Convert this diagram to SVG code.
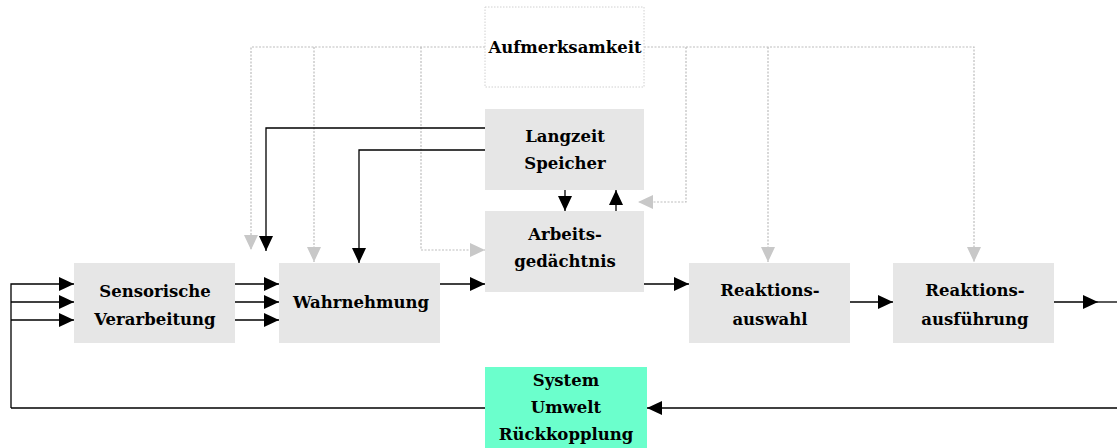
<svg xmlns="http://www.w3.org/2000/svg" width="1117" height="448" viewBox="0 0 1117 448">
<style>
.box{fill:#e6e6e6}
.t{font-family:"DejaVu Serif","Liberation Serif",serif;font-weight:bold;font-size:16.5px;fill:#000;text-anchor:middle}
.k{fill:none;stroke:#000;stroke-width:1.3}
.g{fill:none;stroke:#bdbdbd;stroke-width:1.2;stroke-dasharray:2 1.5}
</style>
<defs>
<marker id="ab" markerWidth="15" markerHeight="14" refX="15" refY="7" orient="auto" markerUnits="userSpaceOnUse"><path d="M0,0 L15,7 L0,14 Z" fill="#000"/></marker>
<marker id="ag" markerWidth="15" markerHeight="14" refX="15" refY="7" orient="auto" markerUnits="userSpaceOnUse"><path d="M0,0 L15,7 L0,14 Z" fill="#c8c8c8"/></marker>
</defs>
<rect width="1117" height="448" fill="#fff"/>
<g id="connectors">
<path class="g" d="M485,47 H251 V250" marker-end="url(#ag)"/>
<path class="g" d="M314,47 V262" marker-end="url(#ag)"/>
<path class="g" d="M421,47 V250 H485" marker-end="url(#ag)"/>
<path class="g" d="M644,47 H974 V262" marker-end="url(#ag)"/>
<path class="g" d="M768,47 V262" marker-end="url(#ag)"/>
<path class="g" d="M686,47 V202 H638" marker-end="url(#ag)"/>
<path class="k" d="M485,128 H266 V251" marker-end="url(#ab)"/>
<path class="k" d="M485,150 H359 V263" marker-end="url(#ab)"/>
<path class="k" d="M565,190 V211" marker-end="url(#ab)"/>
<path class="k" d="M616,211 V190" marker-end="url(#ab)"/>
<path class="k" d="M11,408 V284 H74" marker-end="url(#ab)"/>
<path class="k" d="M11,302 H74" marker-end="url(#ab)"/>
<path class="k" d="M11,320 H74" marker-end="url(#ab)"/>
<path class="k" d="M235,284 H279" marker-end="url(#ab)"/>
<path class="k" d="M235,302 H279" marker-end="url(#ab)"/>
<path class="k" d="M235,320 H279" marker-end="url(#ab)"/>
<path class="k" d="M440,284 H485" marker-end="url(#ab)"/>
<path class="k" d="M644,284 H689" marker-end="url(#ab)"/>
<path class="k" d="M850,302 H893" marker-end="url(#ab)"/>
<path class="k" d="M1054,302 H1098" marker-end="url(#ab)"/>
<path class="k" d="M1098,302 H1117"/>
<path class="k" d="M1117,408 H647" marker-end="url(#ab)"/>
<path class="k" d="M485,408 H11"/>
</g>
<g id="aufmerksamkeit">
<rect x="485" y="7" width="159" height="80" fill="#fff" stroke="#d0d0d0" stroke-width="1" stroke-dasharray="1.5 1.5"/>
<text class="t" x="565" y="53">Aufmerksamkeit</text>
</g>
<g id="langzeit">
<rect class="box" x="485" y="109" width="159" height="81"/>
<text class="t" x="565" y="142">Langzeit</text>
<text class="t" x="565" y="169">Speicher</text>
</g>
<g id="arbeits">
<rect class="box" x="485" y="211" width="159" height="81"/>
<text class="t" x="565" y="240">Arbeits-</text>
<text class="t" x="565" y="267">gedächtnis</text>
</g>
<g id="sensorisch">
<rect class="box" x="74" y="263" width="161" height="80"/>
<text class="t" x="155" y="297">Sensorische</text>
<text class="t" x="155" y="325">Verarbeitung</text>
</g>
<g id="wahrnehmung">
<rect class="box" x="279" y="263" width="161" height="80"/>
<text class="t" x="361" y="308">Wahrnehmung</text>
</g>
<g id="auswahl">
<rect class="box" x="689" y="263" width="161" height="80"/>
<text class="t" x="770" y="296">Reaktions-</text>
<text class="t" x="770" y="325">auswahl</text>
</g>
<g id="ausfuehrung">
<rect class="box" x="893" y="263" width="161" height="80"/>
<text class="t" x="975" y="296">Reaktions-</text>
<text class="t" x="975" y="325">ausführung</text>
</g>
<g id="system">
<rect x="485" y="367" width="162" height="81" fill="#6bffcc"/>
<text class="t" x="566" y="386">System</text>
<text class="t" x="566" y="413">Umwelt</text>
<text class="t" x="566" y="440">Rückkopplung</text>
</g>
</svg>
